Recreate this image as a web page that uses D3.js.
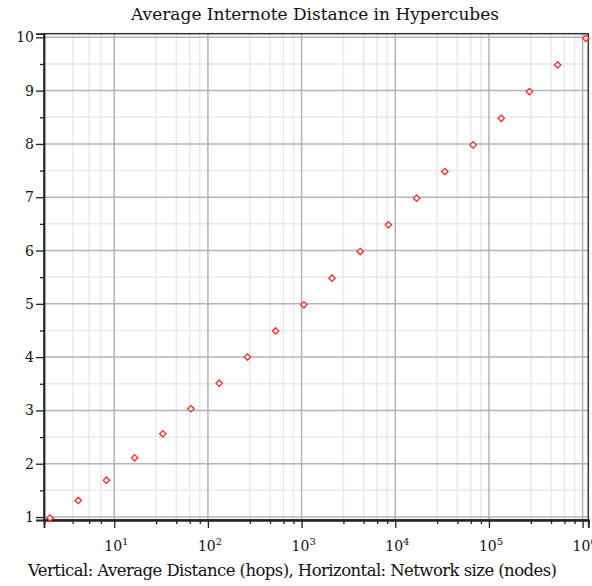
<!DOCTYPE html>
<html>
<head>
<meta charset="utf-8">
<script src="https://cdn.jsdelivr.net/npm/d3@7"></script>
<style>
  html, body { margin: 0; padding: 0; background: #fff; }
  svg { display: block; }
  text { font-family: "DejaVu Serif", "Liberation Serif", serif; fill: #111; }
</style>
</head>
<body>
<script>
// Hypercube sizes (2^1 .. 2^20 nodes) and their average internode distance in hops
const networkSizes = [2, 4, 8, 16, 32, 64, 128, 256, 512, 1024, 2048, 4096, 8192,
  16384, 32768, 65536, 131072, 262144, 524288, 1048576];
const avgDistance = [1.00, 1.33, 1.71, 2.13, 2.58, 3.05, 3.53, 4.02, 4.51, 5.00,
  5.50, 6.00, 6.50, 7.00, 7.50, 8.00, 8.50, 9.00, 9.50, 10.00];

// Axis ticks
const xMajorTicks = [10, 100, 1e3, 1e4, 1e5, 1e6];
const xMajorExponents = ["1", "2", "3", "4", "5", "6"];
const xMinorTicks = [3.6, 5.4, 7.2, 28, 46, 64, 82, 280, 460, 640, 820,
  2800, 4600, 6400, 8200, 28000, 46000, 64000, 82000,
  280000, 460000, 640000, 820000];
const yMajorTicks = [1, 2, 3, 4, 5, 6, 7, 8, 9, 10];
const yMinorTicks = [1.5, 2.5, 3.5, 4.5, 5.5, 6.5, 7.5, 8.5, 9.5];

const titleText = "Average Internote Distance in Hypercubes";
const captionText = "Vertical: Average Distance (hops), Horizontal: Network size (nodes)";

const W = 592, H = 586;
const plot = { left: 44, right: 588.3, top: 33.7, bottom: 520 };

const svg = d3.select("body").append("svg")
  .attr("width", W).attr("height", H);

const x = d3.scaleLog().domain([1.78, 1.15e6]).range([plot.left, plot.right]);
const y = d3.scaleLinear().domain([0.944, 10.068]).range([plot.bottom, plot.top]);

// Grid: minor lines first, then major
const grid = svg.append("g");
grid.selectAll(".vminor").data(xMinorTicks).join("line")
  .attr("x1", d => x(d)).attr("x2", d => x(d))
  .attr("y1", plot.top).attr("y2", plot.bottom)
  .attr("stroke", "#e9e9e9").attr("stroke-width", 1.5);
grid.selectAll(".hminor").data(yMinorTicks).join("line")
  .attr("x1", plot.left).attr("x2", plot.right)
  .attr("y1", d => y(d)).attr("y2", d => y(d))
  .attr("stroke", "#e9e9e9").attr("stroke-width", 1.5);
grid.selectAll(".vmajor").data(xMajorTicks).join("line")
  .attr("x1", d => x(d)).attr("x2", d => x(d))
  .attr("y1", plot.top).attr("y2", plot.bottom)
  .attr("stroke", "#b4b4b4").attr("stroke-width", 1.5);
grid.selectAll(".hmajor").data(yMajorTicks).join("line")
  .attr("x1", plot.left).attr("x2", plot.right)
  .attr("y1", d => y(d)).attr("y2", d => y(d))
  .attr("stroke", "#b4b4b4").attr("stroke-width", 1.5);

// Frame
svg.append("rect")
  .attr("x", plot.left).attr("y", plot.top)
  .attr("width", plot.right - plot.left).attr("height", plot.bottom - plot.top)
  .attr("fill", "none").attr("stroke", "#333").attr("stroke-width", 1.5);

// Bottom axis
const xAxisMajor = d3.axisBottom(x).tickValues(xMajorTicks).tickSize(8).tickFormat("");
const xAxisMinor = d3.axisBottom(x).tickValues(xMinorTicks).tickSize(4).tickFormat("");
[xAxisMajor, xAxisMinor].forEach(ax => {
  const g = svg.append("g").attr("transform", `translate(0,${plot.bottom})`).call(ax);
  g.select(".domain").attr("stroke", "#222").attr("stroke-width", 1.8);
  g.selectAll(".tick line").attr("stroke", "#222").attr("stroke-width", 1.3);
});
const xLabels = svg.append("g");
xMajorTicks.forEach((v, i) => {
  const t = xLabels.append("text")
    .attr("x", x(v) - 10).attr("y", 551)
    .attr("font-size", 14);
  t.append("tspan").text("10");
  t.append("tspan").attr("dy", -6).attr("font-size", 10).text(xMajorExponents[i]);
});

// Left axis
const yAxisMajor = d3.axisLeft(y).tickValues(yMajorTicks).tickSize(8).tickFormat(d3.format("d"));
const yAxisMinor = d3.axisLeft(y).tickValues(yMinorTicks).tickSize(4).tickFormat("");
const gy = svg.append("g").attr("transform", `translate(${plot.left},0)`).call(yAxisMajor);
svg.append("g").attr("transform", `translate(${plot.left},0)`).call(yAxisMinor)
  .call(g => g.select(".domain").remove())
  .selectAll(".tick line").attr("stroke", "#222").attr("stroke-width", 1.3);
gy.select(".domain").attr("stroke", "#222").attr("stroke-width", 1.8);
gy.selectAll(".tick line").attr("stroke", "#222").attr("stroke-width", 1.3);
gy.selectAll(".tick text")
  .attr("font-family", "DejaVu Serif, Liberation Serif, serif")
  .attr("font-size", 14).attr("fill", "#111").attr("x", -10);

// Data markers: small open red diamonds
const diamond = d3.symbol().type(d3.symbolDiamond2).size(26);
svg.append("g").selectAll("path")
  .data(networkSizes.map((n, i) => [n, avgDistance[i]]))
  .join("path")
  .attr("d", diamond)
  .attr("transform", d => `translate(${x(d[0]) + 1.3},${y(d[1]) + 1})`)
  .attr("fill", "#fff").attr("stroke", "#ff2a2a").attr("stroke-width", 1.3);

// Title and caption, in a Times-style face spread to their full width
svg.append("text").attr("x", 131).attr("y", 20)
  .attr("font-family", "Liberation Serif, serif")
  .attr("font-size", 17)
  .attr("textLength", 368).attr("lengthAdjust", "spacing")
  .text(titleText);
svg.append("text").attr("x", 28).attr("y", 576)
  .attr("font-family", "Liberation Serif, serif")
  .attr("font-size", 16.5)
  .attr("textLength", 529).attr("lengthAdjust", "spacing")
  .text(captionText);
</script>
</body>
</html>
